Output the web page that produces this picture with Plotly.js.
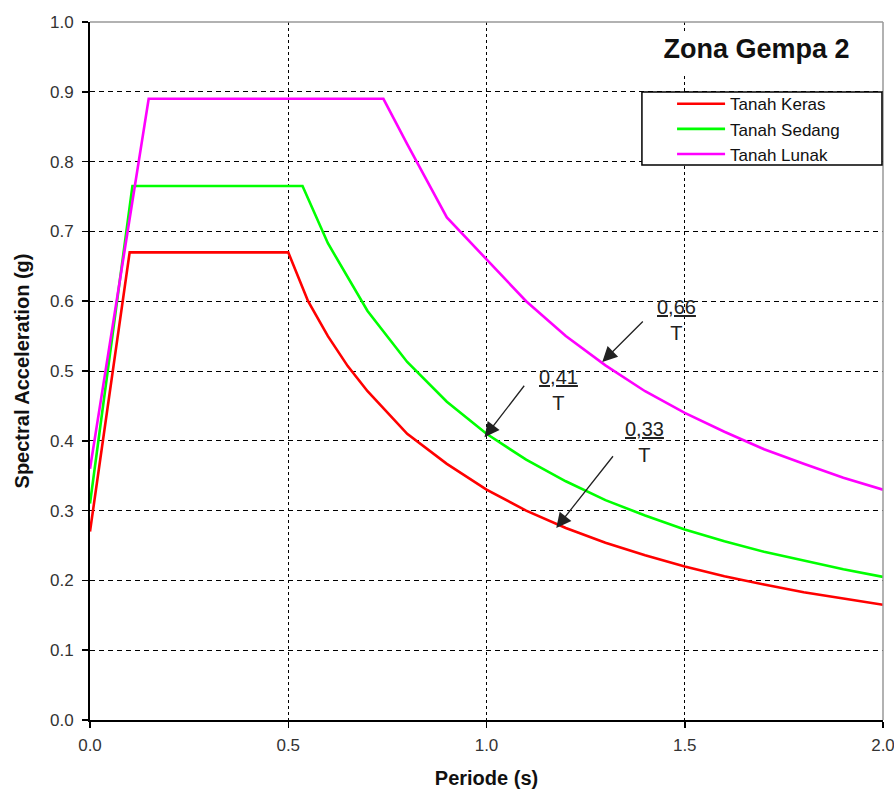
<!DOCTYPE html>
<html>
<head>
<meta charset="utf-8">
<script src="https://cdn.plot.ly/plotly-3.0.1.min.js"></script>
<style>html,body{margin:0;padding:0;background:#fff;}#chart{width:894px;height:800px;}</style>
</head>
<body>
<div id="chart"></div>
<script>
// Series names
const seriesNames = ["Tanah Keras", "Tanah Sedang", "Tanah Lunak"];

// Tanah Keras (hard soil)
const periodKeras = [0, 0.10, 0.50, 0.55, 0.60, 0.65, 0.70, 0.80, 0.90, 1.00, 1.10, 1.20, 1.30, 1.40, 1.50, 1.60, 1.70, 1.80, 1.90, 2.00];
const accelKeras  = [0.27, 0.67, 0.67, 0.60, 0.55, 0.507, 0.471, 0.41, 0.367, 0.33, 0.30, 0.275, 0.254, 0.236, 0.22, 0.206, 0.194, 0.183, 0.174, 0.165];

// Tanah Sedang (medium soil)
const periodSedang = [0, 0.107, 0.536, 0.60, 0.70, 0.80, 0.90, 1.00, 1.10, 1.20, 1.30, 1.40, 1.50, 1.60, 1.70, 1.80, 1.90, 2.00];
const accelSedang  = [0.31, 0.765, 0.765, 0.683, 0.586, 0.513, 0.456, 0.41, 0.373, 0.342, 0.315, 0.293, 0.273, 0.256, 0.241, 0.228, 0.216, 0.205];

// Tanah Lunak (soft soil)
const periodLunak = [0, 0.148, 0.74, 0.80, 0.90, 1.00, 1.10, 1.20, 1.30, 1.40, 1.50, 1.60, 1.70, 1.80, 1.90, 2.00];
const accelLunak  = [0.36, 0.89, 0.89, 0.825, 0.72, 0.66, 0.60, 0.55, 0.508, 0.471, 0.44, 0.413, 0.388, 0.367, 0.347, 0.33];

// Tick values
const xTicks = [0, 0.5, 1.0, 1.5, 2.0];
const yTicks = [0, 0.1, 0.2, 0.3, 0.4, 0.5, 0.6, 0.7, 0.8, 0.9, 1.0];

// Formula labels
const formulaLabels = ["0,66", "0,41", "0,33"];

const colors = ["#FF0000", "#00FF00", "#FF00FF"];
const font = "Arial, 'Liberation Sans', sans-serif";

const traces = [
  {x: periodKeras, y: accelKeras, name: seriesNames[0]},
  {x: periodSedang, y: accelSedang, name: seriesNames[1]},
  {x: periodLunak, y: accelLunak, name: seriesNames[2]}
].map((t, i) => Object.assign(t, {
  type: "scatter", mode: "lines",
  line: {color: colors[i], width: 2.6},
  hoverinfo: "skip"
}));

// formula text positions (data coords) and arrows (tip / tail)
const formulaPos = [[1.479, 0.573], [1.181, 0.473], [1.398, 0.398]];
const arrowTip  = [[1.292, 0.513], [0.995, 0.405], [1.176, 0.275]];
const arrowTail = [[1.398, 0.573], [1.098, 0.481], [1.322, 0.380]];

const annotations = [];
formulaLabels.forEach((lab, i) => {
  annotations.push({
    xref: "x", yref: "y", x: formulaPos[i][0], y: formulaPos[i][1],
    text: "<u>" + lab + "</u><br>T", showarrow: false,
    font: {family: font, size: 20, color: "#222"}, align: "center"
  });
  annotations.push({
    xref: "x", yref: "y", x: arrowTip[i][0], y: arrowTip[i][1],
    axref: "x", ayref: "y", ax: arrowTail[i][0], ay: arrowTail[i][1],
    text: "", showarrow: true, arrowhead: 2, arrowsize: 2.3, arrowwidth: 1.3,
    arrowcolor: "#222", standoff: 0, startstandoff: 0
  });
});

const layout = {
  width: 894, height: 800,
  margin: {l: 90, r: 11, t: 22, b: 80},
  paper_bgcolor: "#fff", plot_bgcolor: "#fff",
  font: {family: font, color: "#222"},
  showlegend: true,
  title: {
    text: "Zona Gempa 2", xref: "paper", x: 0.8405, xanchor: "center",
    yref: "container", y: 0.939, yanchor: "middle",
    font: {family: font, size: 27, weight: "bold", color: "#111"}
  },
  xaxis: {
    range: [0, 2], tickvals: xTicks, tickformat: ".1f",
    showgrid: true, gridcolor: "#000", gridwidth: 1, griddash: "3px,3px",
    zeroline: false, showline: true, linecolor: "#000", linewidth: 2,
    ticks: "outside", ticklen: 6, tickcolor: "#000", tickwidth: 1.5,
    ticklabelstandoff: 3, ticklabeloverflow: "allow",
    tickfont: {family: font, size: 17, color: "#333"},
    title: {text: "Periode (s)", font: {family: font, size: 20, weight: "bold", color: "#111"}, standoff: 17},
    fixedrange: true
  },
  yaxis: {
    range: [0, 1], tickvals: yTicks, tickformat: ".1f",
    showgrid: true, gridcolor: "#000", gridwidth: 1, griddash: "5px,4px",
    zeroline: false, showline: true, linecolor: "#000", linewidth: 2,
    ticks: "outside", ticklen: 6, tickcolor: "#000", tickwidth: 1.5,
    ticklabelstandoff: 5, ticklabeloverflow: "allow",
    tickfont: {family: font, size: 17, color: "#333"},
    title: {text: "Spectral Acceleration (g)", font: {family: font, size: 20, weight: "bold", color: "#111"}, standoff: 15},
    fixedrange: true
  },
  legend: {
    x: 0.734, xanchor: "left", y: 0.908, yanchor: "top",
    bgcolor: "rgba(0,0,0,0)", borderwidth: 0,
    font: {family: font, size: 17, color: "#111"},
    itemwidth: 48, tracegroupgap: 0
  },
  shapes: [
    // top and right frame (gray)
    {type: "line", xref: "paper", yref: "paper", x0: 0, x1: 1, y0: 1, y1: 1, line: {color: "#999", width: 1.5}, layer: "above"},
    {type: "line", xref: "paper", yref: "paper", x0: 1, x1: 1, y0: 0, y1: 1, line: {color: "#999", width: 1.5}, layer: "above"},
    // white backing behind the title
    {type: "rect", xref: "paper", yref: "paper", x0: 0.7188, x1: 0.962, y0: 0.924, y1: 0.984,
     fillcolor: "#fff", line: {width: 0}, layer: "above"},
    // legend box
    {type: "rect", xref: "paper", yref: "paper", x0: 0.696, x1: 0.9987, y0: 0.795, y1: 0.8997,
     fillcolor: "#fff", line: {color: "#000", width: 1.5}, layer: "above"}
  ],
  annotations: annotations
};

Plotly.newPlot("chart", traces, layout, {displayModeBar: false, staticPlot: true});
</script>
</body>
</html>
